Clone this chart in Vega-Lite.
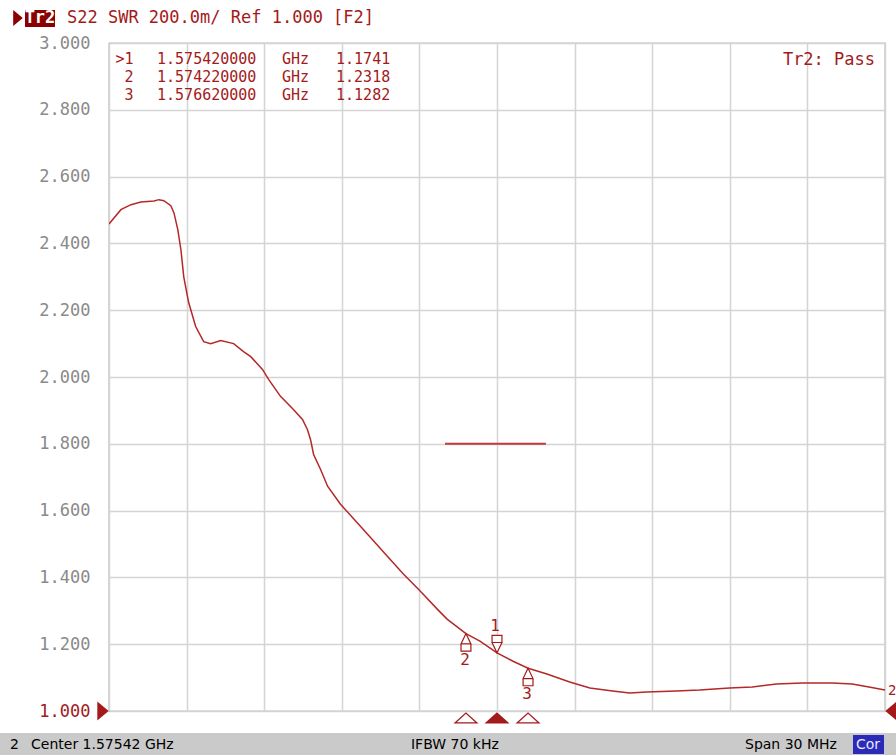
{
  "$schema": "https://vega.github.io/schema/vega-lite/v6.json",
  "width": 776,
  "height": 668,
  "autosize": "none",
  "padding": {"left": 109, "top": 43, "right": 11, "bottom": 44},
  "background": "#ffffff",
  "config": {"view": {"stroke": "#808080", "strokeWidth": 1.2}},
  "datasets": {
    "trace": [
      {"f": 1.56042, "v": 2.458}, {"f": 1.56088, "v": 2.501}, {"f": 1.56127, "v": 2.516},
      {"f": 1.56165, "v": 2.524}, {"f": 1.56216, "v": 2.527}, {"f": 1.56235, "v": 2.531},
      {"f": 1.56254, "v": 2.528}, {"f": 1.56281, "v": 2.513}, {"f": 1.56293, "v": 2.492},
      {"f": 1.56308, "v": 2.441}, {"f": 1.5632, "v": 2.381}, {"f": 1.56331, "v": 2.3},
      {"f": 1.5635, "v": 2.223}, {"f": 1.56377, "v": 2.151}, {"f": 1.56408, "v": 2.106},
      {"f": 1.56435, "v": 2.1}, {"f": 1.56474, "v": 2.109}, {"f": 1.56524, "v": 2.1},
      {"f": 1.56562, "v": 2.076}, {"f": 1.5659, "v": 2.061}, {"f": 1.56636, "v": 2.022},
      {"f": 1.56659, "v": 1.993}, {"f": 1.56705, "v": 1.942}, {"f": 1.56755, "v": 1.903},
      {"f": 1.5679, "v": 1.873}, {"f": 1.56809, "v": 1.843}, {"f": 1.56821, "v": 1.813},
      {"f": 1.56833, "v": 1.768}, {"f": 1.5686, "v": 1.723}, {"f": 1.56887, "v": 1.673},
      {"f": 1.56937, "v": 1.619}, {"f": 1.57014, "v": 1.553}, {"f": 1.57118, "v": 1.463},
      {"f": 1.5718, "v": 1.41}, {"f": 1.57245, "v": 1.359}, {"f": 1.57311, "v": 1.305},
      {"f": 1.57349, "v": 1.275}, {"f": 1.57422, "v": 1.2318}, {"f": 1.57476, "v": 1.209},
      {"f": 1.57542, "v": 1.1741}, {"f": 1.57604, "v": 1.149}, {"f": 1.57662, "v": 1.1282},
      {"f": 1.57735, "v": 1.111}, {"f": 1.57823, "v": 1.087}, {"f": 1.57901, "v": 1.069},
      {"f": 1.57989, "v": 1.06}, {"f": 1.58055, "v": 1.054}, {"f": 1.58121, "v": 1.057},
      {"f": 1.58236, "v": 1.06}, {"f": 1.58325, "v": 1.063}, {"f": 1.58441, "v": 1.069},
      {"f": 1.58529, "v": 1.072}, {"f": 1.58622, "v": 1.081}, {"f": 1.58722, "v": 1.084},
      {"f": 1.58838, "v": 1.084}, {"f": 1.58915, "v": 1.081}, {"f": 1.5898, "v": 1.072},
      {"f": 1.59042, "v": 1.063}
    ],
    "limit": [{"f": 1.57341, "f2": 1.57731, "v": 1.8}],
    "markers": [
      {"id": 1, "f": 1.57542, "v": 1.1741},
      {"id": 2, "f": 1.57422, "v": 1.2318},
      {"id": 3, "f": 1.57662, "v": 1.1282}
    ],
    "glyphs": [
      {"kind": "refL", "f": 1.56042, "v": 1},
      {"kind": "refR", "f": 1.59042, "v": 1},
      {"kind": "hdr", "f": 1.556902, "v": 3.0749}
    ],
    "boxes": [
      {"kind": "tr2", "f": 1.557173, "f2": 1.558332, "v": 3.0479, "v2": 3.0988},
      {"kind": "bar", "f": 1.556206, "f2": 1.590845, "v": 0.86826, "v2": 0.93413},
      {"kind": "cor", "f": 1.589183, "f2": 1.590382, "v": 0.87126, "v2": 0.92814}
    ],
    "labels": [
      {"kind": "tr2", "text": "Tr2", "f": 1.557752, "v": 3.0749},
      {"kind": "red", "text": "S22 SWR 200.0m/ Ref 1.000 [F2]", "f": 1.558796, "v": 3.0749},
      {"kind": "mid", "text": ">1", "f": 1.561367, "v": 2.9506},
      {"kind": "mid", "text": "2", "f": 1.561367, "v": 2.8976},
      {"kind": "mid", "text": "3", "f": 1.561367, "v": 2.8443},
      {"kind": "tab", "text": "1.575420000", "f": 1.562276, "v": 2.9506},
      {"kind": "tab", "text": "1.574220000", "f": 1.562276, "v": 2.8976},
      {"kind": "tab", "text": "1.576620000", "f": 1.562276, "v": 2.8443},
      {"kind": "tab", "text": "GHz", "f": 1.567108, "v": 2.9506},
      {"kind": "tab", "text": "GHz", "f": 1.567108, "v": 2.8976},
      {"kind": "tab", "text": "GHz", "f": 1.567108, "v": 2.8443},
      {"kind": "tab", "text": "1.1741", "f": 1.569196, "v": 2.9506},
      {"kind": "tab", "text": "1.2318", "f": 1.569196, "v": 2.8976},
      {"kind": "tab", "text": "1.1282", "f": 1.569196, "v": 2.8443},
      {"kind": "pass", "text": "Tr2: Pass", "f": 1.590034, "v": 2.9491},
      {"kind": "end", "text": "2", "f": 1.590536, "v": 1.0599},
      {"kind": "status", "text": "2", "f": 1.556593, "v": 0.8982},
      {"kind": "status", "text": "Center 1.57542 GHz", "f": 1.557405, "v": 0.8982},
      {"kind": "status", "text": "IFBW 70 kHz", "f": 1.572095, "v": 0.8982},
      {"kind": "status", "text": "Span 30 MHz", "f": 1.585008, "v": 0.8982},
      {"kind": "cor", "text": "Cor", "f": 1.589763, "v": 0.8982}
    ]
  },
  "encoding": {
    "x": {"field": "f", "type": "quantitative",
      "scale": {"domain": [1.56042, 1.59042], "nice": false, "zero": false},
      "axis": {"values": [1.56042, 1.56342, 1.56642, 1.56942, 1.57242, 1.57542, 1.57842, 1.58142, 1.58442, 1.58742, 1.59042],
        "labels": false, "ticks": false, "domain": false, "title": null, "gridColor": "#d4d4d4", "gridWidth": 1.5}},
    "y": {"field": "v", "type": "quantitative",
      "scale": {"domain": [1, 3], "nice": false, "zero": false},
      "axis": {"values": [1, 1.2, 1.4, 1.6, 1.8, 2, 2.2, 2.4, 2.6, 2.8, 3], "format": ".3f",
        "labelFont": "DejaVu Sans Mono", "labelFontSize": 17,
        "labelColor": {"condition": {"test": "datum.value == 1", "value": "#a31a1a"}, "value": "#8a8a8a"},
        "labelPadding": 19, "labelBaseline": "middle", "ticks": false, "domain": false, "title": null,
        "gridColor": "#d4d4d4", "gridWidth": 1.5}}
  },
  "layer": [
    {
      "data": {"name": "trace"},
      "mark": {"type": "line", "color": "#b42828", "strokeWidth": 1.5, "clip": true}
    },
    {
      "data": {"name": "limit"},
      "mark": {"type": "rule", "color": "#c03a3a", "strokeWidth": 2},
      "encoding": {"x2": {"field": "f2"}}
    },
    {
      "data": {"name": "markers"},
      "transform": [{"filter": "datum.id == 1"}],
      "mark": {"type": "point", "shape": "M0,1L0.55,-0.15L-0.55,-0.15Z M-0.55,-0.15L-0.55,-0.95L0.55,-0.95L0.55,-0.15", "size": 324, "filled": false, "fill": "#ffffff", "fillOpacity": 1, "stroke": "#a31a1a", "strokeWidth": 1.2, "opacity": 1, "yOffset": -9}
    },
    {
      "data": {"name": "markers"},
      "transform": [{"filter": "datum.id != 1"}],
      "mark": {"type": "point", "shape": "M0,-1L0.55,0.15L-0.55,0.15Z M-0.55,0.15L-0.55,0.95L0.55,0.95L0.55,0.15", "size": 324, "filled": false, "fill": "#ffffff", "fillOpacity": 1, "stroke": "#a31a1a", "strokeWidth": 1.2, "opacity": 1, "yOffset": 9}
    },
    {
      "data": {"name": "markers"},
      "transform": [{"filter": "datum.id == 1"}],
      "mark": {"type": "text", "font": "DejaVu Sans Mono", "fontSize": 16, "color": "#a31a1a", "baseline": "middle", "align": "center", "yOffset": -27, "xOffset": -2},
      "encoding": {"text": {"field": "id"}}
    },
    {
      "data": {"name": "markers"},
      "transform": [{"filter": "datum.id != 1"}],
      "mark": {"type": "text", "font": "DejaVu Sans Mono", "fontSize": 16, "color": "#a31a1a", "baseline": "middle", "align": "center", "yOffset": 26, "xOffset": -1},
      "encoding": {"text": {"field": "id"}}
    },
    {
      "data": {"name": "markers"},
      "mark": {"type": "point", "shape": "M-1,0.45L1,0.45L0,-0.45Z", "size": 484, "filled": false, "fillOpacity": 1, "stroke": "#a31a1a", "strokeWidth": 1.2, "opacity": 1, "yOffset": 7, "clip": false},
      "encoding": {
        "y": {"datum": 1, "type": "quantitative",
          "scale": {"domain": [1, 3], "nice": false, "zero": false},
          "axis": {"values": [1, 1.2, 1.4, 1.6, 1.8, 2, 2.2, 2.4, 2.6, 2.8, 3], "format": ".3f",
            "labelFont": "DejaVu Sans Mono", "labelFontSize": 17,
            "labelColor": {"condition": {"test": "datum.value == 1", "value": "#a31a1a"}, "value": "#8a8a8a"},
            "labelPadding": 19, "labelBaseline": "middle", "ticks": false, "domain": false, "title": null,
            "gridColor": "#d4d4d4", "gridWidth": 1.5}},
        "fill": {"condition": {"test": "datum.id == 1", "value": "#a31a1a"}, "value": "#ffffff"}
      }
    },
    {
      "data": {"name": "glyphs"},
      "transform": [{"filter": "datum.kind == 'refL'"}],
      "mark": {"type": "point", "shape": "M-0.6,-1L0.6,0L-0.6,1Z", "size": 361, "filled": true, "color": "#a31a1a", "opacity": 1, "xOffset": -6}
    },
    {
      "data": {"name": "glyphs"},
      "transform": [{"filter": "datum.kind == 'refR'"}],
      "mark": {"type": "point", "shape": "M0.6,-1L-0.6,0L0.6,1Z", "size": 361, "filled": true, "color": "#a31a1a", "opacity": 1, "xOffset": 6}
    },
    {
      "data": {"name": "glyphs"},
      "transform": [{"filter": "datum.kind == 'hdr'"}],
      "mark": {"type": "point", "shape": "M-0.6,-1L0.6,0L-0.6,1Z", "size": 256, "filled": true, "color": "#8b0000", "opacity": 1}
    },
    {
      "data": {"name": "boxes"},
      "mark": {"type": "rect"},
      "encoding": {
        "x2": {"field": "f2"},
        "y2": {"field": "v2"},
        "fill": {"condition": [{"test": "datum.kind == 'tr2'", "value": "#8b0000"}, {"test": "datum.kind == 'cor'", "value": "#2b2bb8"}], "value": "#cacaca"}
      }
    },
    {
      "data": {"name": "labels"},
      "transform": [{"filter": "datum.kind == 'red'"}],
      "mark": {"type": "text", "font": "DejaVu Sans Mono", "fontSize": 17, "color": "#a31a1a", "align": "left", "baseline": "middle"},
      "encoding": {"text": {"field": "text"}}
    },
    {
      "data": {"name": "labels"},
      "transform": [{"filter": "datum.kind == 'tab'"}],
      "mark": {"type": "text", "font": "DejaVu Sans Mono", "fontSize": 15, "color": "#a31a1a", "align": "left", "baseline": "middle"},
      "encoding": {"text": {"field": "text"}}
    },
    {
      "data": {"name": "labels"},
      "transform": [{"filter": "datum.kind == 'mid'"}],
      "mark": {"type": "text", "font": "DejaVu Sans Mono", "fontSize": 15, "color": "#a31a1a", "align": "right", "baseline": "middle"},
      "encoding": {"text": {"field": "text"}}
    },
    {
      "data": {"name": "labels"},
      "transform": [{"filter": "datum.kind == 'end'"}],
      "mark": {"type": "text", "font": "DejaVu Sans Mono", "fontSize": 14, "color": "#a31a1a", "align": "left", "baseline": "middle"},
      "encoding": {"text": {"field": "text"}}
    },
    {
      "data": {"name": "labels"},
      "transform": [{"filter": "datum.kind == 'pass'"}],
      "mark": {"type": "text", "font": "DejaVu Sans Mono", "fontSize": 17, "color": "#a31a1a", "align": "right", "baseline": "middle"},
      "encoding": {"text": {"field": "text"}}
    },
    {
      "data": {"name": "labels"},
      "transform": [{"filter": "datum.kind == 'tr2'"}],
      "mark": {"type": "text", "font": "DejaVu Sans Mono", "fontSize": 17, "fontWeight": "bold", "color": "#ffffff", "align": "center", "baseline": "middle"},
      "encoding": {"text": {"field": "text"}}
    },
    {
      "data": {"name": "labels"},
      "transform": [{"filter": "datum.kind == 'status'"}],
      "mark": {"type": "text", "font": "DejaVu Sans", "fontSize": 14, "color": "#000000", "align": "left", "baseline": "middle"},
      "encoding": {"text": {"field": "text"}}
    },
    {
      "data": {"name": "labels"},
      "transform": [{"filter": "datum.kind == 'cor'"}],
      "mark": {"type": "text", "font": "DejaVu Sans", "fontSize": 14, "color": "#e8e8ff", "align": "center", "baseline": "middle"},
      "encoding": {"text": {"field": "text"}}
    }
  ]
}
